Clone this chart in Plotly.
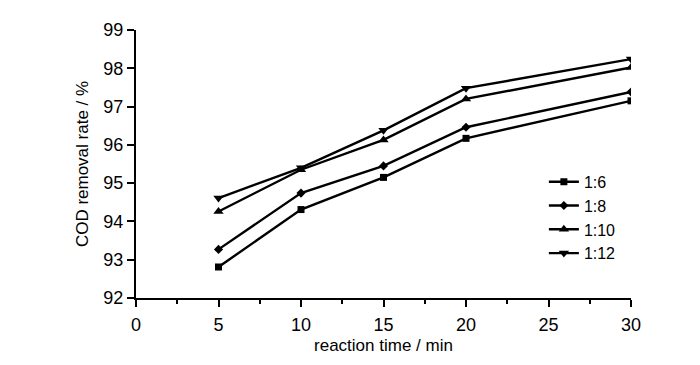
import plotly.graph_objects as go

times = [5, 10, 15, 20, 30]
series_names = ["1:6", "1:8", "1:10", "1:12"]
cod_1_6 = [92.81, 94.31, 95.15, 96.17, 97.15]
cod_1_8 = [93.27, 94.74, 95.45, 96.46, 97.38]
cod_1_10 = [94.26, 95.35, 96.13, 97.2, 98.02]
cod_1_12 = [94.61, 95.4, 96.38, 97.48, 98.24]
x_ticks = [0, 5, 10, 15, 20, 25, 30]
y_ticks = [92, 93, 94, 95, 96, 97, 98, 99]

values = [cod_1_6, cod_1_8, cod_1_10, cod_1_12]
symbols = ["square", "diamond", "triangle-up", "triangle-down"]
sizes = [7, 7, 9, 9]

fig = go.Figure()
for name, vals, sym, sz in zip(series_names, values, symbols, sizes):
    fig.add_trace(go.Scatter(
        x=times, y=vals, name=name, mode="lines+markers",
        line=dict(color="black", width=2.4),
        marker=dict(symbol=sym, size=sz, color="black"),
    ))

font = "Liberation Sans, Arial, sans-serif"
fig.update_layout(
    width=700, height=365,
    margin=dict(l=128, r=77, t=14, b=75),
    plot_bgcolor="white", paper_bgcolor="white",
    font=dict(family=font, color="black", size=16),
    showlegend=True,
    legend=dict(x=0.824, y=0.497, xanchor="left", yanchor="top",
                font=dict(size=16), bgcolor="rgba(0,0,0,0)",
                tracegroupgap=0, itemwidth=30),
    xaxis=dict(range=[0, 30], tickvals=x_ticks, showgrid=False, zeroline=False,
               showline=True, linecolor="black", linewidth=2,
               ticks="outside", ticklen=7, tickwidth=2, tickcolor="black",
               ticklabelstandoff=2,
               minor=dict(dtick=2.5, tick0=0, ticks="outside", ticklen=4, tickwidth=1.5, tickcolor="black"),
               title=dict(text="reaction time / min", font=dict(size=17), standoff=6),
               tickfont=dict(size=18)),
    yaxis=dict(range=[92, 99], tickvals=y_ticks, showgrid=False, zeroline=False,
               showline=True, linecolor="black", linewidth=2,
               ticks="outside", ticklen=7, tickwidth=2, tickcolor="black",
               title=dict(text="COD removal rate / %", font=dict(size=17), standoff=10),
               tickfont=dict(size=18)),
)

fig.write_html("out.html")
